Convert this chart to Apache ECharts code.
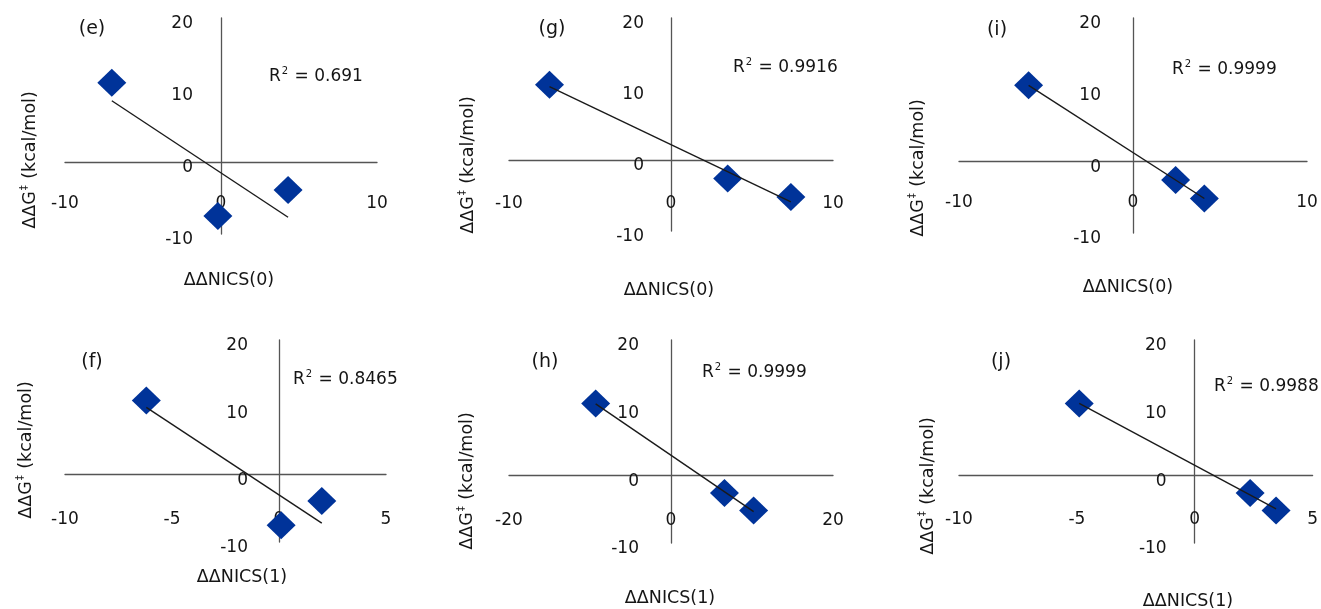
<!DOCTYPE html>
<html><head><meta charset="utf-8">
<script src="https://cdn.jsdelivr.net/npm/echarts@6/dist/echarts.min.js"></script>
<style>html,body{margin:0;padding:0;background:#fff}#c{width:1321px;height:609px}</style>
</head><body><div id="c"></div>
<script>
// ---- data ----
const panelLetters = ['(e)', '(g)', '(i)', '(f)', '(h)', '(j)'];
const xTitles = ['ΔΔNICS(0)', 'ΔΔNICS(0)', 'ΔΔNICS(0)', 'ΔΔNICS(1)', 'ΔΔNICS(1)', 'ΔΔNICS(1)'];
const yTitleMain = 'ΔΔG';
const yTitleSup = '‡';
const yTitleUnit = ' (kcal/mol)';
const r2Values = ['0.691', '0.9916', '0.9999', '0.8465', '0.9999', '0.9988'];
const yValuesEF = [11.0, -7.5, -3.9];
const yValuesGHIJ = [10.6, -2.6, -5.2];
const xValuesE = [-7.0, -0.2, 4.3];
const xValuesG = [-7.5, 3.5, 7.4];
const xValuesI = [-6.0, 2.45, 4.1];
const xValuesF = [-6.2, 0.1, 2.0];
const xValuesH = [-9.3, 6.6, 10.2];
const xValuesJ = [-4.9, 2.35, 3.45];
const xMins = [-10, -10, -10, -10, -20, -10];
const xMaxs = [10, 10, 10, 5, 20, 5];
const xIntervals = [10, 10, 10, 5, 20, 5];
const yMin = -10, yMax = 20, yInterval = 10;

const panelX = [xValuesE, xValuesG, xValuesI, xValuesF, xValuesH, xValuesJ];
const panelY = [yValuesEF, yValuesGHIJ, yValuesGHIJ, yValuesEF, yValuesGHIJ, yValuesGHIJ];

// ---- layout (positions only) ----
// xo: distance from x-axis line to x tick label centre; yo: gap from y-axis line to label right edge
const layout = [
  {grid:{left:65, top:18, width:312, height:216}, xo:40, yo:28, letter:[92,29], r2:[269,77], yT:[30,160], xT:[229,280]},
  {grid:{left:509, top:18, width:324, height:213}, xo:42, yo:27, letter:[552,29], r2:[733,68], yT:[468,165], xT:[669,290]},
  {grid:{left:959, top:18, width:348, height:215}, xo:40, yo:32, letter:[997,30], r2:[1172,70], yT:[918,168], xT:[1128,287]},
  {grid:{left:65, top:340, width:321, height:202}, xo:43, yo:31, letter:[92,362], r2:[293,380], yT:[26,450], xT:[242,577]},
  {grid:{left:509, top:340, width:324, height:203}, xo:44, yo:32, letter:[545,362], r2:[702,373], yT:[467,481], xT:[670,598]},
  {grid:{left:959, top:340, width:358, height:203}, xo:43, yo:31, letter:[1001,362], r2:[1214,387], yT:[928,486], xT:[1188,601]}
];

const FONT = 'DejaVu Sans';
const TXT = '#151515';
const AXIS = '#555555';

function fit(xs, ys) {
  const n = xs.length;
  const mx = xs.reduce((a,b)=>a+b,0)/n, my = ys.reduce((a,b)=>a+b,0)/n;
  let sxy = 0, sxx = 0;
  for (let i=0;i<n;i++){ sxy += (xs[i]-mx)*(ys[i]-my); sxx += (xs[i]-mx)*(xs[i]-mx); }
  const b = sxy/sxx, a = my - b*mx;
  const x0 = Math.min(...xs), x1 = Math.max(...xs);
  return [[x0, a+b*x0],[x1, a+b*x1]];
}

const grids = [], xAxes = [], yAxes = [], series = [], graphics = [];
layout.forEach((L, i) => {
  const g = L.grid;
  grids.push(Object.assign({containLabel:false}, g));
  // labels stay at the grid edge when the axis line sits on zero, so offset them back to the zero lines
  const zeroY = g.top + g.height * (yMax - 0) / (yMax - yMin);
  const zeroX = g.left + g.width * (0 - xMins[i]) / (xMaxs[i] - xMins[i]);
  const xMargin = (zeroY - (g.top + g.height)) + L.xo - 7;
  const yMargin = -(zeroX - g.left - L.yo);
  xAxes.push({
    type:'value', gridIndex:i, min:xMins[i], max:xMaxs[i], interval:xIntervals[i],
    axisLine:{show:true, onZero:true, lineStyle:{color:AXIS, width:1.3}},
    axisTick:{show:false}, splitLine:{show:false},
    axisLabel:{margin:xMargin, color:TXT, fontFamily:FONT, fontSize:17}
  });
  yAxes.push({
    type:'value', gridIndex:i, min:yMin, max:yMax, interval:yInterval,
    axisLine:{show:true, onZero:true, lineStyle:{color:AXIS, width:1.3}},
    axisTick:{show:false}, splitLine:{show:false},
    axisLabel:{margin:yMargin, color:TXT, fontFamily:FONT, fontSize:17, verticalAlign:'top', lineHeight:12}
  });
  const pts = panelX[i].map((x, k) => [x, panelY[i][k]]);
  series.push({
    type:'scatter', xAxisIndex:i, yAxisIndex:i, data:pts, z:2,
    symbol:'diamond', symbolSize:[29,28],
    itemStyle:{color:'#003399', opacity:1}, silent:true
  });
  series.push({
    type:'line', xAxisIndex:i, yAxisIndex:i, data:fit(panelX[i], panelY[i]), z:3,
    showSymbol:false, symbol:'none', lineStyle:{color:'#1a1a1a', width:1.4}, silent:true
  });
  graphics.push({type:'text', x:L.letter[0], y:L.letter[1],
    style:{text:panelLetters[i], fill:TXT, fontFamily:FONT, fontSize:19, align:'center', verticalAlign:'middle'}});
  graphics.push({type:'text', x:L.r2[0], y:L.r2[1],
    style:{text:'{r|R}{s|2}{r| = ' + r2Values[i] + '}', align:'left', verticalAlign:'middle', fill:TXT,
      rich:{r:{fontFamily:FONT, fontSize:17, fill:TXT, lineHeight:22}, s:{fontFamily:FONT, fontSize:10, fill:TXT, verticalAlign:'top', padding:[0,1,0,1]}}}});
  graphics.push({type:'text', x:L.xT[0], y:L.xT[1],
    style:{text:xTitles[i], fill:TXT, fontFamily:FONT, fontSize:17.5, align:'center', verticalAlign:'middle'}});
  graphics.push({type:'text', x:L.yT[0], y:L.yT[1], rotation:Math.PI/2,
    style:{text:'{r|'+yTitleMain+'}{s|'+yTitleSup+'}{r|'+yTitleUnit+'}', align:'center', verticalAlign:'middle', fill:TXT,
      rich:{r:{fontFamily:FONT, fontSize:17.5, fill:TXT, lineHeight:22}, s:{fontFamily:FONT, fontSize:10, fill:TXT, verticalAlign:'top', padding:[0,1,0,1]}}}});
});

const chart = echarts.init(document.getElementById('c'), null, {renderer:'canvas'});
chart.setOption({
  animation:false,
  backgroundColor:'#ffffff',
  grid:grids, xAxis:xAxes, yAxis:yAxes, series:series, graphic:graphics
});
</script>
</body></html>
